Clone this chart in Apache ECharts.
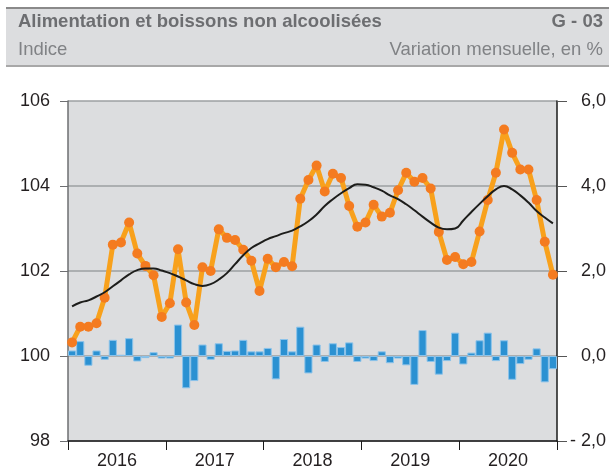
<!DOCTYPE html>
<html><head><meta charset="utf-8">
<script src="https://cdn.jsdelivr.net/npm/echarts@6/dist/echarts.min.js"></script>
<style>html,body{margin:0;padding:0;background:#fff}#c{width:609px;height:470px}</style>
</head><body><div id="c"></div>
<script>
const years = ['2016','2017','2018','2019','2020'];
const leftTicks = [98,100,102,104,106];
const rightTicks = ['- 2,0','0,0','2,0','4,0','6,0'];
const indexValues = [100.32,100.69,100.69,100.77,101.37,102.62,102.67,103.14,102.41,102.12,
101.90,100.92,101.24,102.51,101.26,100.73,102.09,102.00,102.98,102.78,
102.73,102.50,102.24,101.53,102.29,102.09,102.21,102.11,103.70,104.14,
104.48,103.87,104.29,104.19,103.53,103.04,103.14,103.56,103.28,103.37,
103.90,104.31,104.10,104.19,103.94,102.92,102.26,102.33,102.16,102.21,
102.93,103.67,104.31,105.33,104.78,104.39,104.39,103.67,102.69,101.91];
const trendValues = [101.17,101.26,101.31,101.40,101.50,101.64,101.78,101.92,102.02,102.06,
102.06,102.01,101.95,101.87,101.78,101.69,101.65,101.69,101.80,101.95,
102.16,102.37,102.54,102.65,102.75,102.82,102.89,102.95,103.05,103.17,
103.33,103.53,103.69,103.83,103.95,104.04,104.03,103.97,103.89,103.78,
103.69,103.57,103.43,103.28,103.14,103.02,102.98,103.00,103.19,103.39,
103.58,103.76,103.92,104.00,103.92,103.78,103.61,103.41,103.26,103.12];
const monthlyChange = [0.13,0.35,-0.23,0.13,-0.09,0.38,0.03,0.42,-0.13,-0.05,
0.09,-0.06,-0.06,0.74,-0.76,-0.59,0.27,-0.09,0.30,0.12,
0.13,0.38,0.11,0.11,0.19,-0.55,0.40,0.11,0.69,-0.41,
0.27,-0.14,0.30,0.21,0.32,-0.14,-0.06,-0.12,0.11,-0.17,
-0.06,-0.22,-0.68,0.61,-0.14,-0.44,-0.12,0.55,-0.20,0.08,
0.37,0.55,-0.12,0.37,-0.56,-0.19,-0.09,0.18,-0.62,-0.31];

const months = [];
years.forEach(y => { for (let m = 1; m <= 12; m++) months.push(y + '-' + (m < 10 ? '0' : '') + m); });

const FONT = '"Liberation Sans", Arial, sans-serif';
const chart = echarts.init(document.getElementById('c'), null, {renderer: 'canvas'});
chart.setOption({
  animation: false,
  backgroundColor: '#ffffff',
  textStyle: {fontFamily: FONT},
  graphic: [
    {type: 'rect', shape: {x: 6, y: 8, width: 603, height: 58}, style: {fill: '#dcdddf'}, z: -1},
    {type: 'line', shape: {x1: 6, y1: 8, x2: 609, y2: 8}, style: {stroke: '#8a8a8a', lineWidth: 2}},
    {type: 'line', shape: {x1: 6, y1: 66, x2: 609, y2: 66}, style: {stroke: '#a8a8a8', lineWidth: 2}}
  ],
  title: [
    {text: 'Alimentation et boissons non alcoolisées', left: 18, top: 12, padding: 0,
     textStyle: {fontFamily: FONT, fontSize: 18.5, fontWeight: 'bold', color: '#6d6e71'}},
    {text: 'G - 03', right: 6, top: 12, padding: 0,
     textStyle: {fontFamily: FONT, fontSize: 18.5, fontWeight: 'bold', color: '#6d6e71'}},
    {text: 'Indice', left: 18, top: 40, padding: 0,
     textStyle: {fontFamily: FONT, fontSize: 18.5, fontWeight: 'normal', color: '#808285'}},
    {text: 'Variation mensuelle, en %', right: 6, top: 40, padding: 0,
     textStyle: {fontFamily: FONT, fontSize: 18.5, fontWeight: 'normal', color: '#808285'}}
  ],
  grid: {left: 68, right: 49, top: 101, bottom: 28, show: true, backgroundColor: '#dcdddf', borderWidth: 0},
  xAxis: [
    {type: 'category', data: months, position: 'top', show: false, boundaryGap: true},
    {type: 'category', data: years, position: 'bottom', boundaryGap: true,
     axisLine: {show: true, lineStyle: {color: '#1a1a1a', width: 1.5}},
     axisTick: {show: true, length: 9, lineStyle: {color: '#1a1a1a', width: 1}},
     axisLabel: {fontSize: 18, color: '#231f20', margin: 11, fontFamily: FONT},
     splitLine: {show: false}}
  ],
  yAxis: [
    {type: 'value', min: 98, max: 106, interval: 2, position: 'left',
     axisLine: {show: true, lineStyle: {color: '#6d6e71', width: 1.5}},
     axisTick: {show: true, length: 8, lineStyle: {color: '#6d6e71', width: 1}},
     axisLabel: {fontSize: 18, color: '#231f20', margin: 18, fontFamily: FONT,
       formatter: v => String(leftTicks[leftTicks.indexOf(v)])},
     splitLine: {show: true, lineStyle: {color: '#9d9fa2', width: 1.5}}},
    {type: 'value', min: -2, max: 6, interval: 2, position: 'right',
     axisLine: {show: true, lineStyle: {color: '#1a1a1a', width: 1.5}},
     axisTick: {show: true, length: 10, lineStyle: {color: '#555', width: 1}},
     axisLabel: {fontSize: 18, color: '#231f20', margin: 49, align: 'right', fontFamily: FONT,
       formatter: v => rightTicks[(v + 2) / 2]},
     splitLine: {show: false}}
  ],
  series: [
    {type: 'bar', xAxisIndex: 0, yAxisIndex: 1, data: monthlyChange, barCategoryGap: '0%', barGap: '0%',
     itemStyle: {color: '#2b91d2', borderColor: '#8cc3ea', borderWidth: 1}, z: 2},
    {type: 'line', xAxisIndex: 0, yAxisIndex: 0, data: indexValues, smooth: false, showAllSymbol: true,
     lineStyle: {color: '#f8a11c', width: 5}, symbol: 'circle', symbolSize: 10,
     itemStyle: {color: '#f47b20', borderWidth: 0}, z: 3},
    {type: 'line', xAxisIndex: 0, yAxisIndex: 0, data: trendValues, smooth: true,
     lineStyle: {color: '#1d1d1b', width: 2}, symbol: 'none', z: 4}
  ]
});
</script></body></html>
